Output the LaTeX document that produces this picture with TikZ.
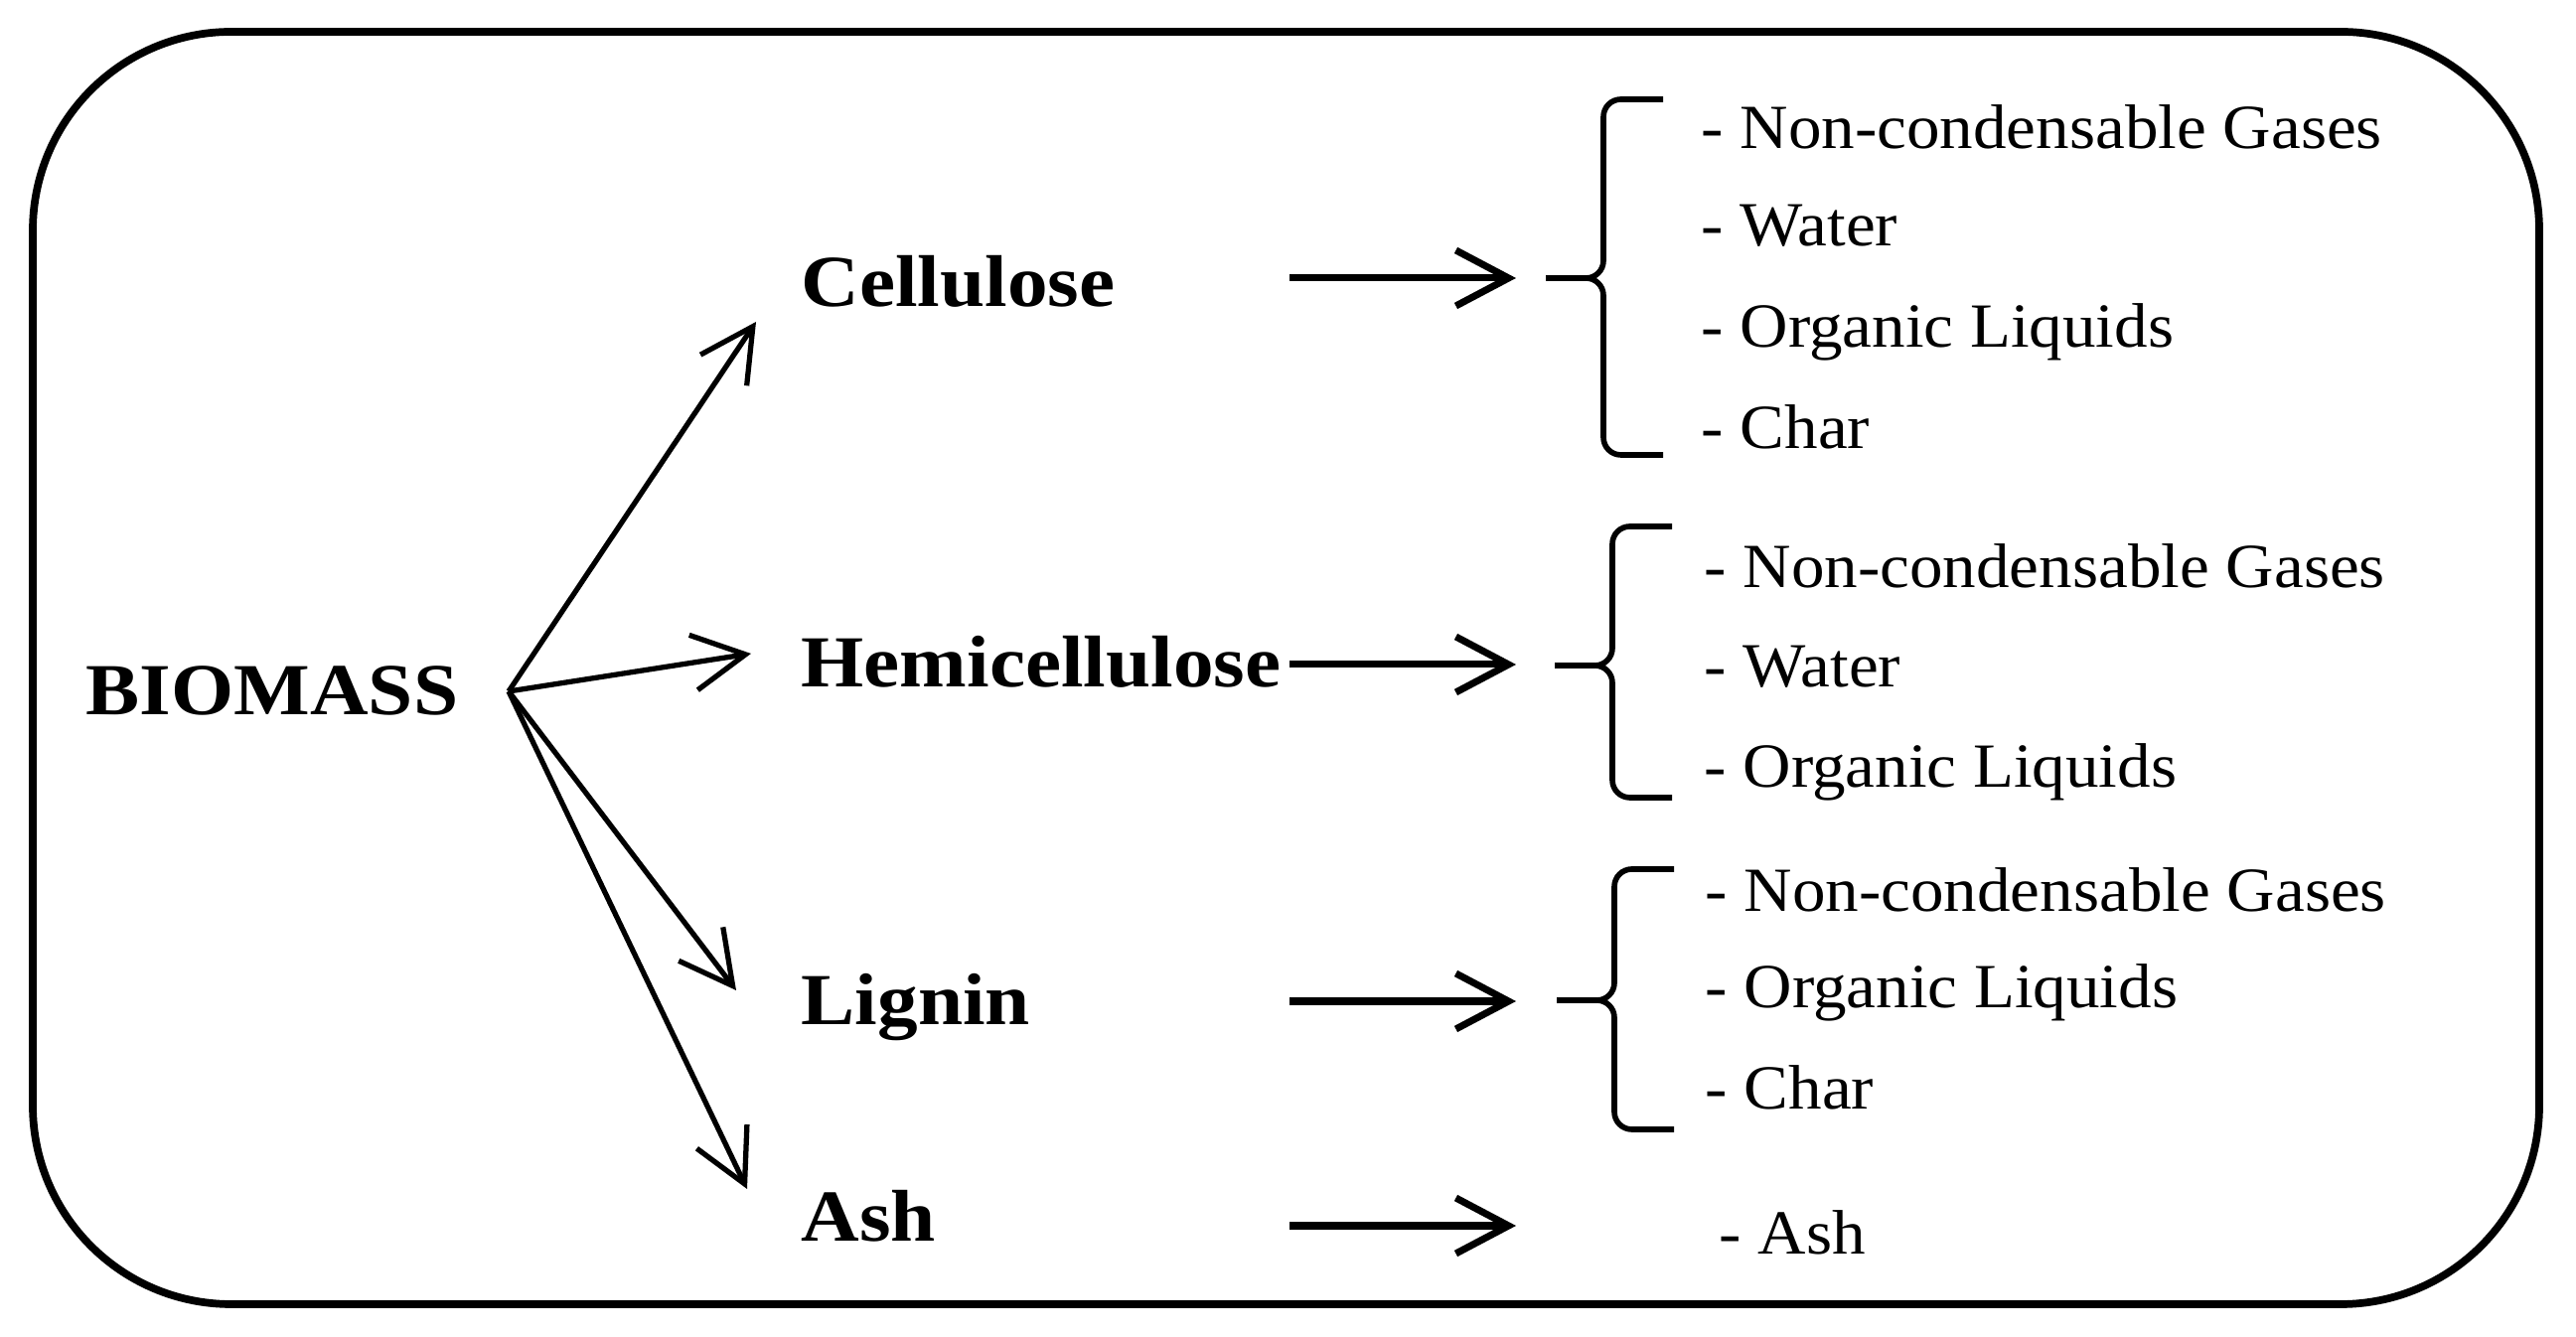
\documentclass[tikz,border=0pt]{standalone}
\usepackage{fontspec}
\setmainfont{Liberation Serif}[FakeStretch=1.06]
\newfontfamily\compfont{Liberation Serif}[FakeStretch=1.1]
\usetikzlibrary{arrows.meta}

\tikzset{
    comp/.style = {anchor=base west, inner sep=0pt, font=\compfont\bfseries\fontsize{21}{25}\selectfont},
    prod/.style = {anchor=base west, inner sep=0pt, font=\fontsize{18}{22}\selectfont},
    flow/.style = {-{Straight Barb[length=5.3mm,width=5.6mm]}, line width=2pt},
    split/.style = {-{Straight Barb[length=5.3mm,width=5.6mm]}, line width=1.5pt},
    brace line/.style = {line width=1.6pt, rounded corners=5pt}
}

% spine x, top, middle, bottom
\newcommand{\prodbrace}[4]{%
    \draw[brace line] ({#1+0.6},#2) -- (#1,#2) -- (#1,#3) -- ({#1-0.58},#3);
    \draw[brace line] ({#1-0.58},#3) -- (#1,#3) -- (#1,#4) -- ({#1+0.6},#4);
}

\begin{document}
\begin{tikzpicture}
    \useasboundingbox (0,0) rectangle (25.93,13.46);

    % Outer frame
    \draw[line width=2.2pt, rounded corners=2cm] (0.33,0.33) rectangle (25.56,13.14);

    % Biomass and its components
    \node[comp] (bio) at (0.86,6.26) {BIOMASS};
    \node[comp] (cel) at (8.06,10.37) {Cellulose};
    \node[comp] (hem) at (8.06,6.54) {Hemicellulose};
    \node[comp] (lig) at (8.06,3.14) {Lignin};
    \node[comp] (ash) at (8.06,0.96) {Ash};

    % Split arrows
    \coordinate (fork) at (5.12,6.50);
    \coordinate (celIn) at (7.61,10.22);
    \coordinate (hemIn) at (7.56,6.88);
    \coordinate (ligIn) at (7.41,3.49);
    \coordinate (ashIn) at (7.52,1.49);
    \draw[split] (fork) -- (celIn);
    \draw[split] (fork) -- (hemIn);
    \draw[split] (fork) -- (ligIn);
    \draw[split] (fork) -- (ashIn);

    % Product arrows
    \coordinate (celA) at (12.98,10.66);
    \coordinate (celB) at (15.26,10.66);
    \coordinate (hemA) at (12.98,6.77);
    \coordinate (hemB) at (15.26,6.77);
    \coordinate (ligA) at (12.98,3.38);
    \coordinate (ligB) at (15.26,3.38);
    \coordinate (ashA) at (12.98,1.12);
    \coordinate (ashB) at (15.26,1.12);
    \draw[flow] (celA) -- (celB);
    \draw[flow] (hemA) -- (hemB);
    \draw[flow] (ligA) -- (ligB);
    \draw[flow] (ashA) -- (ashB);

    % Braces
    \prodbrace{16.14}{12.46}{10.66}{8.88}
    \prodbrace{16.23}{8.16}{6.76}{5.43}
    \prodbrace{16.25}{4.71}{3.39}{2.09}

    % Cellulose products
    \node[prod] (celGas) at (17.12,11.96) {- Non-condensable Gases};
    \node[prod] (celWat) at (17.12,10.98) {- Water};
    \node[prod] (celLiq) at (17.12,9.96) {- Organic Liquids};
    \node[prod] (celChr) at (17.12,8.94) {- Char};

    % Hemicellulose products
    \node[prod] (hemGas) at (17.15,7.54) {- Non-condensable Gases};
    \node[prod] (hemWat) at (17.15,6.54) {- Water};
    \node[prod] (hemLiq) at (17.15,5.53) {- Organic Liquids};

    % Lignin products
    \node[prod] (ligGas) at (17.16,4.28) {- Non-condensable Gases};
    \node[prod] (ligLiq) at (17.16,3.31) {- Organic Liquids};
    \node[prod] (ligChr) at (17.16,2.29) {- Char};

    % Ash product
    \node[prod] (ashOut) at (17.30,0.83) {- Ash};
\end{tikzpicture}
\end{document}
